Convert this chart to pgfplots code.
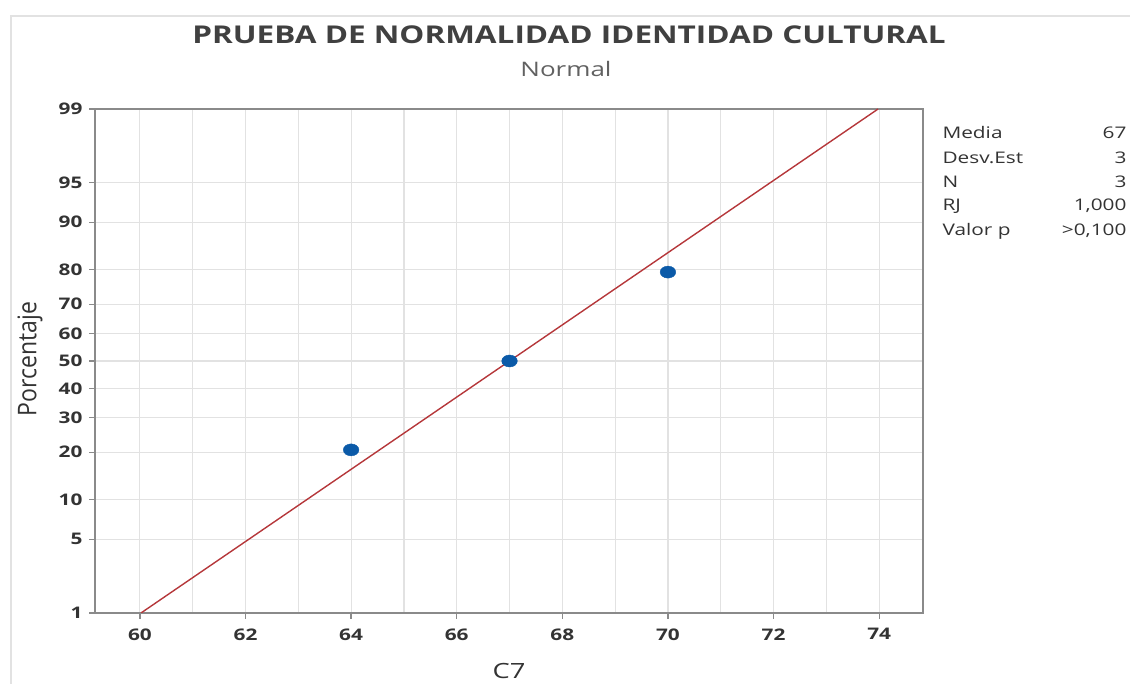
\documentclass[border=0pt]{standalone}
\usepackage{fontspec}
\setmainfont{Open Sans}
\usepackage{graphicx}
\usepackage{pgfplots}
\pgfplotsset{compat=1.18}
\newcommand\wide[1]{\scalebox{1.3}[1]{#1}}
\definecolor{ptblue}{HTML}{0B5AA8}
\definecolor{fitred}{HTML}{B5373A}
\definecolor{gridc}{HTML}{E2E2E2}
\definecolor{axisc}{HTML}{8A8A8A}
\definecolor{txt}{HTML}{333333}
\begin{document}
\begin{tikzpicture}[x=1pt,y=1pt]
\begin{axis}[
  at={(95pt,71pt)}, anchor=south west,
  scale only axis, width=828pt, height=504pt,
  xmin=59.15, xmax=74.83,
  ymin=-2.326348, ymax=2.326348,
  xtick={60,62,...,74}, minor xtick={61,63,...,73},
  xticklabel={\wide{\pgfmathprintnumber{\tick}}},
  ytick={-2.326348,-1.644854,-1.281552,-0.841621,-0.524401,-0.253347,0,0.253347,0.524401,0.841621,1.281552,1.644854,2.326348},
  yticklabels={\wide{1},\wide{5},\wide{10},\wide{20},\wide{30},\wide{40},\wide{50},\wide{60},\wide{70},\wide{80},\wide{90},\wide{95},\wide{99}},
  grid=both,
  major grid style={draw=gridc, line width=1.2pt},
  minor grid style={draw=gridc, line width=1.2pt},
  axis line style={draw=axisc, line width=1.6pt},
  tick style={draw=axisc, line width=1.3pt},
  major tick length=6pt, minor tick length=0pt,
  tick align=outside, xtick pos=bottom, ytick pos=left,
  /pgf/number format/assume math mode=true,
  ticklabel style={font=\bfseries\fontsize{16}{16}\selectfont, text=txt},
  xticklabel style={yshift=-6pt},
  yticklabel style={xshift=-3pt},
  clip=true,
]
\addplot[color=fitred, line width=1.4pt, mark=none] coordinates {(60.021,-2.326348) (73.979,2.326348)};
\addplot[only marks, mark=*, mark size=6pt, mark options={xscale=1.3}, color=ptblue, fill=ptblue] coordinates {(64,-0.8206) (67,0) (70,0.8206)};
\end{axis}
\draw[gridc, line width=1.2pt] (11,0) -- (11,668) -- (1130,668);
\node[font=\bfseries\fontsize{24.5}{24.5}\selectfont, text=black!75] at (569,649) {\scalebox{1.285}[1]{PRUEBA DE NORMALIDAD IDENTIDAD CULTURAL}};
\node[font=\fontsize{20}{20}\selectfont, text=black!62] at (566,615) {\wide{Normal}};
\node[font=\fontsize{21}{21}\selectfont, text=txt] at (509,13) {\wide{C7}};
\node[font=\fontsize{23}{23}\selectfont, text=txt, rotate=90] at (30,325) {\scalebox{1}[1.12]{Porcentaje}};
\begin{scope}[every node/.style={font=\fontsize{16}{16}\selectfont, text=txt}]
\node[anchor=west] at (939,551) {\wide{Media}};
\node[anchor=west] at (939,526) {\wide{Desv.Est}};
\node[anchor=west] at (939,502) {\wide{N}};
\node[anchor=west] at (939,478) {\wide{RJ}};
\node[anchor=west] at (939,453) {\wide{Valor p}};
\node[anchor=east] at (1130,551) {\wide{67}};
\node[anchor=east] at (1130,526) {\wide{3}};
\node[anchor=east] at (1130,502) {\wide{3}};
\node[anchor=east] at (1130,478) {\wide{1,000}};
\node[anchor=east] at (1130,453) {\wide{>0,100}};
\end{scope}
\pgfresetboundingbox
\useasboundingbox (0,0) rectangle (1130,684);
\end{tikzpicture}
\end{document}
